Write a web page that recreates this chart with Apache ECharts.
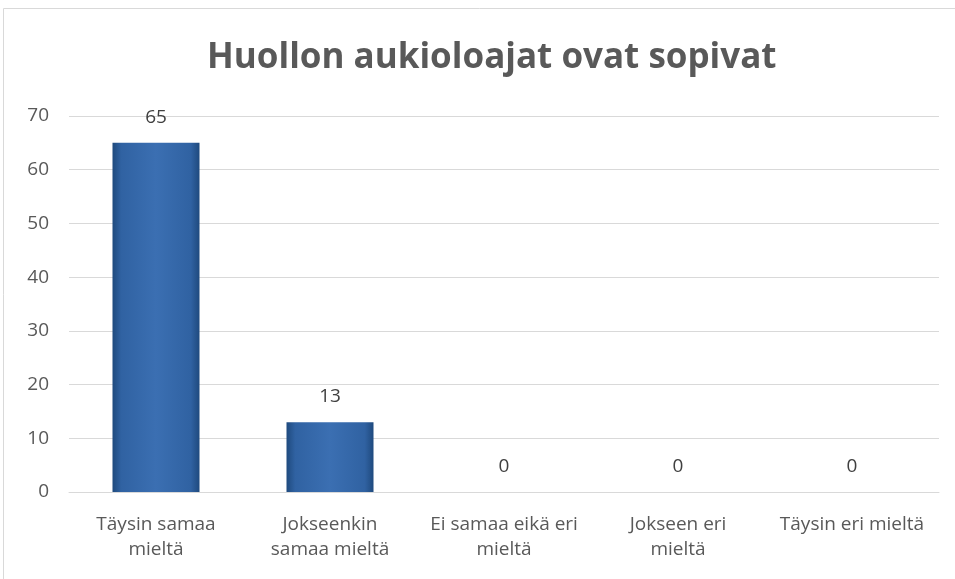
<!DOCTYPE html>
<html>
<head>
<meta charset="utf-8">
<script src="https://cdn.jsdelivr.net/npm/echarts@6/dist/echarts.min.js"></script>
<style>
html,body{margin:0;padding:0;background:#fff;}
#chart{width:955px;height:579px;}
</style>
</head>
<body>
<div id="chart"></div>
<script>
var categories = ['Täysin samaa\nmieltä', 'Jokseenkin\nsamaa mieltä', 'Ei samaa eikä eri\nmieltä', 'Jokseen eri\nmieltä', 'Täysin eri mieltä'];
var values = [65, 13, 0, 0, 0];
var chartTitle = 'Huollon aukioloajat ovat sopivat';

var chart = echarts.init(document.getElementById('chart'));
var barColor = new echarts.graphic.LinearGradient(0, 0, 1, 0, [
    {offset: 0, color: '#1f4a7e'},
    {offset: 0.1, color: '#3062a2'},
    {offset: 0.5, color: '#3b6fb2'},
    {offset: 0.9, color: '#3062a2'},
    {offset: 1, color: '#1f4a7e'}
]);
var option = {
    animation: false,
    graphic: [{
        type: 'rect',
        shape: {x: 3.5, y: 8.5, width: 960, height: 580},
        style: {fill: 'none', stroke: '#d9d9d9', lineWidth: 1},
        silent: true
    }],
    title: {
        text: chartTitle,
        left: 202,
        top: 36,
        textStyle: {
            fontFamily: 'Open Sans',
            fontWeight: 'bold',
            fontSize: 35,
            color: '#595959'
        }
    },
    grid: {
        left: 69,
        right: 16,
        top: 116,
        bottom: 87
    },
    xAxis: {
        type: 'category',
        data: categories,
        axisLine: {lineStyle: {color: '#d9d9d9', width: 1}},
        axisTick: {show: false},
        axisLabel: {
            color: '#595959',
            fontFamily: 'Open Sans',
            fontSize: 19,
            lineHeight: 25,
            margin: 20,
            interval: 0
        }
    },
    yAxis: {
        type: 'value',
        min: 0,
        max: 70,
        interval: 10,
        axisLine: {show: false},
        axisTick: {show: false},
        splitLine: {lineStyle: {color: '#d9d9d9', width: 1}},
        axisLabel: {
            color: '#595959',
            fontFamily: 'Open Sans',
            fontSize: 19,
            margin: 20
        }
    },
    series: [{
        type: 'bar',
        data: values,
        barWidth: '50%',
        itemStyle: {
            color: barColor
        },
        label: {
            show: true,
            position: 'top',
            distance: 16,
            color: '#404040',
            fontFamily: 'Open Sans',
            fontSize: 19
        }
    }]
};
chart.setOption(option);
</script>
</body>
</html>
